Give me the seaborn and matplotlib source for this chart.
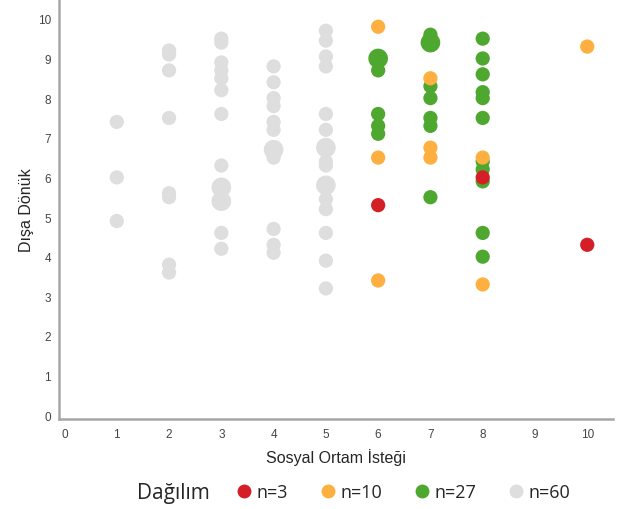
import pandas as pd
import matplotlib
matplotlib.use("Agg")
import matplotlib.pyplot as plt
import seaborn as sns
from matplotlib.lines import Line2D

# --- Daten ---
groups = ["n=3", "n=10", "n=27", "n=60"]
colors = ["#d41f27", "#fdb03f", "#4ea72e", "#dedede"]

# n=60 (grau)
gray_x = [1, 1, 1,
          2, 2, 2, 2, 2, 2, 2, 2,
          3, 3, 3, 3, 3, 3, 3, 3, 3, 3, 3, 3,
          4, 4, 4, 4, 4, 4, 4, 4, 4, 4, 4,
          5, 5, 5, 5, 5, 5, 5, 5, 5, 5, 5, 5, 5, 5, 5, 5]
gray_y = [7.4, 6.0, 4.9,
          9.2, 9.1, 8.7, 7.5, 5.6, 5.5, 3.8, 3.6,
          9.5, 9.4, 8.9, 8.7, 8.5, 8.2, 7.6, 6.3, 5.75, 5.4, 4.6, 4.2,
          8.8, 8.4, 8.0, 7.8, 7.4, 7.2, 6.7, 6.5, 4.7, 4.3, 4.1,
          9.7, 9.45, 9.05, 8.8, 7.6, 7.2, 6.75, 6.4, 6.3, 5.8, 5.45, 5.2, 4.6, 3.9, 3.2, 6.75]
gray_n = [1, 1, 1,
          1, 1, 1, 1, 1, 1, 1, 1,
          1, 1, 1, 1, 1, 1, 1, 1, 2, 2, 1, 1,
          1, 1, 1, 1, 1, 1, 2, 1, 1, 1, 1,
          1, 1, 1, 1, 1, 1, 2, 1, 1, 2, 1, 1, 1, 1, 1, 1]

# n=27 (gruen)
green_x = [6, 6, 6, 6, 6,
           7, 7, 7, 7, 7, 7, 7,
           8, 8, 8, 8, 8, 8, 8, 8, 8, 8, 8]
green_y = [9.0, 8.7, 7.6, 7.3, 7.1,
           9.6, 9.4, 8.3, 8.0, 7.5, 7.3, 5.5,
           9.5, 9.0, 8.6, 8.15, 8.0, 7.5, 6.4, 6.2, 5.9, 4.6, 4.0]
green_n = [2, 1, 1, 1, 1,
           1, 2, 1, 1, 1, 1, 1,
           1, 1, 1, 1, 1, 1, 1, 1, 1, 1, 1]

# n=10 (orange)
orange_x = [6, 6, 6, 7, 7, 7, 8, 8, 10]
orange_y = [9.8, 6.5, 3.4, 8.5, 6.75, 6.5, 6.5, 3.3, 9.3]
orange_n = [1, 1, 1, 1, 1, 1, 1, 1, 1]

# n=3 (rot)
red_x = [6, 8, 10]
red_y = [5.3, 6.0, 4.3]
red_n = [1, 1, 1]

df = pd.concat([
    pd.DataFrame({"x": gray_x, "y": gray_y, "n": gray_n, "grp": "n=60"}),
    pd.DataFrame({"x": green_x, "y": green_y, "n": green_n, "grp": "n=27"}),
    pd.DataFrame({"x": orange_x, "y": orange_y, "n": orange_n, "grp": "n=10"}),
    pd.DataFrame({"x": red_x, "y": red_y, "n": red_n, "grp": "n=3"}),
], ignore_index=True)

palette = dict(zip(groups, colors))

sns.set_theme(style="white")
plt.rcParams["font.family"] = ["Liberation Sans", "DejaVu Sans"]

fig = plt.figure(figsize=(6.24, 5.10), dpi=100)
ax = fig.add_axes([0.095, 0.176, 0.888, 0.824])

sns.scatterplot(data=df, x="x", y="y", hue="grp", palette=palette,
                size="n", sizes={1: 105, 2: 200}, linewidth=0,
                alpha=1, legend=False, ax=ax)

ax.set_xlim(-0.1, 10.5)
ax.set_ylim(-0.1, 10.5)
ax.set_xticks(range(0, 11))
ax.set_yticks(range(0, 11))
ax.tick_params(axis="both", length=0, labelsize=8.5, labelcolor="#444444", pad=6)

for s in ["top", "right"]:
    ax.spines[s].set_visible(False)
for s in ["left", "bottom"]:
    ax.spines[s].set_color("#a6a6a6")
    ax.spines[s].set_linewidth(1.8)

ax.set_xlabel("Sosyal Ortam İsteği", fontsize=11.5, labelpad=6)
ax.set_ylabel("Dışa Dönük", fontsize=11.5, labelpad=3)

# Legende unten, Titel links daneben
handles = [Line2D([0], [0], marker="o", linestyle="", markersize=10,
                  markerfacecolor=palette[g], markeredgewidth=0) for g in groups]
fig.text(0.22, 0.033, "Dağılım", fontsize=15, family=["Open Sans", "DejaVu Sans"],
         ha="left", va="center")
fig.legend(handles, groups, loc="center left", bbox_to_anchor=(0.378, 0.033),
           ncol=4, frameon=False, handlelength=0.9, handletextpad=0.25,
           columnspacing=1.75, borderaxespad=0, borderpad=0,
           prop={"family": ["Open Sans", "DejaVu Sans"], "size": 13})

fig.savefig("out.png", dpi=100)
